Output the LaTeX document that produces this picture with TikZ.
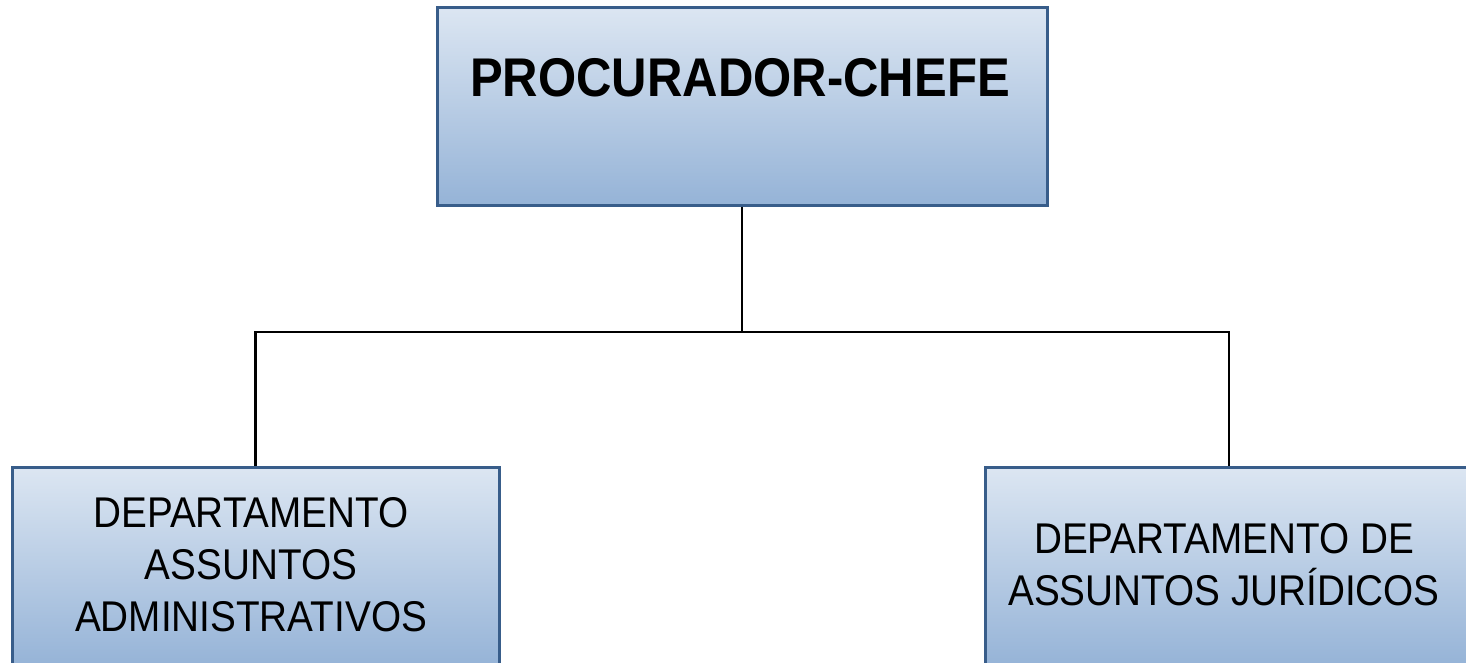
\documentclass[tikz,border=0pt]{standalone}
\usepackage{fontspec}
\setmainfont[FakeStretch=0.9]{Liberation Sans}
\definecolor{boxborder}{RGB}{56,93,138}
\definecolor{boxtop}{RGB}{220,230,242}
\definecolor{boxbottom}{RGB}{149,179,215}
\begin{document}
\begin{tikzpicture}[x=1pt,y=-1pt,
  box/.style={rectangle, draw=boxborder, line width=3pt, top color=boxtop, bottom color=boxbottom, inner sep=0pt},
  toptxt/.style={inner sep=0pt, font=\fontsize{54.5}{60}\selectfont\bfseries},
  deptxt/.style={inner sep=0pt, align=center, font=\fontsize{43}{52}\selectfont},
  conn/.style={draw=black, line width=2.5pt, line join=miter}]
\useasboundingbox (0,0) rectangle (1466,662);
\clip (0,0) rectangle (1466,662);
\node[box, minimum width=610pt, minimum height=198pt] (chefe) at (742,106) {};
\node[box, minimum width=487pt, minimum height=200pt] (adm) at (255.5,567) {};
\node[box, minimum width=488pt, minimum height=200pt] (jur) at (1229,567) {};
\node[toptxt] (tchefe) at (740,78) {PROCURADOR-CHEFE};
\node[deptxt] (tadm) at (251,565) {DEPARTAMENTO\\ASSUNTOS\\ADMINISTRATIVOS};
\node[deptxt] (tjur) at (1224,565) {DEPARTAMENTO DE\\ASSUNTOS JURÍDICOS};
\coordinate (j) at (742,332);
\draw[conn] (chefe.south) -- (j);
\draw[conn] (adm.north) |- (j) -| (jur.north);
\end{tikzpicture}
\end{document}
